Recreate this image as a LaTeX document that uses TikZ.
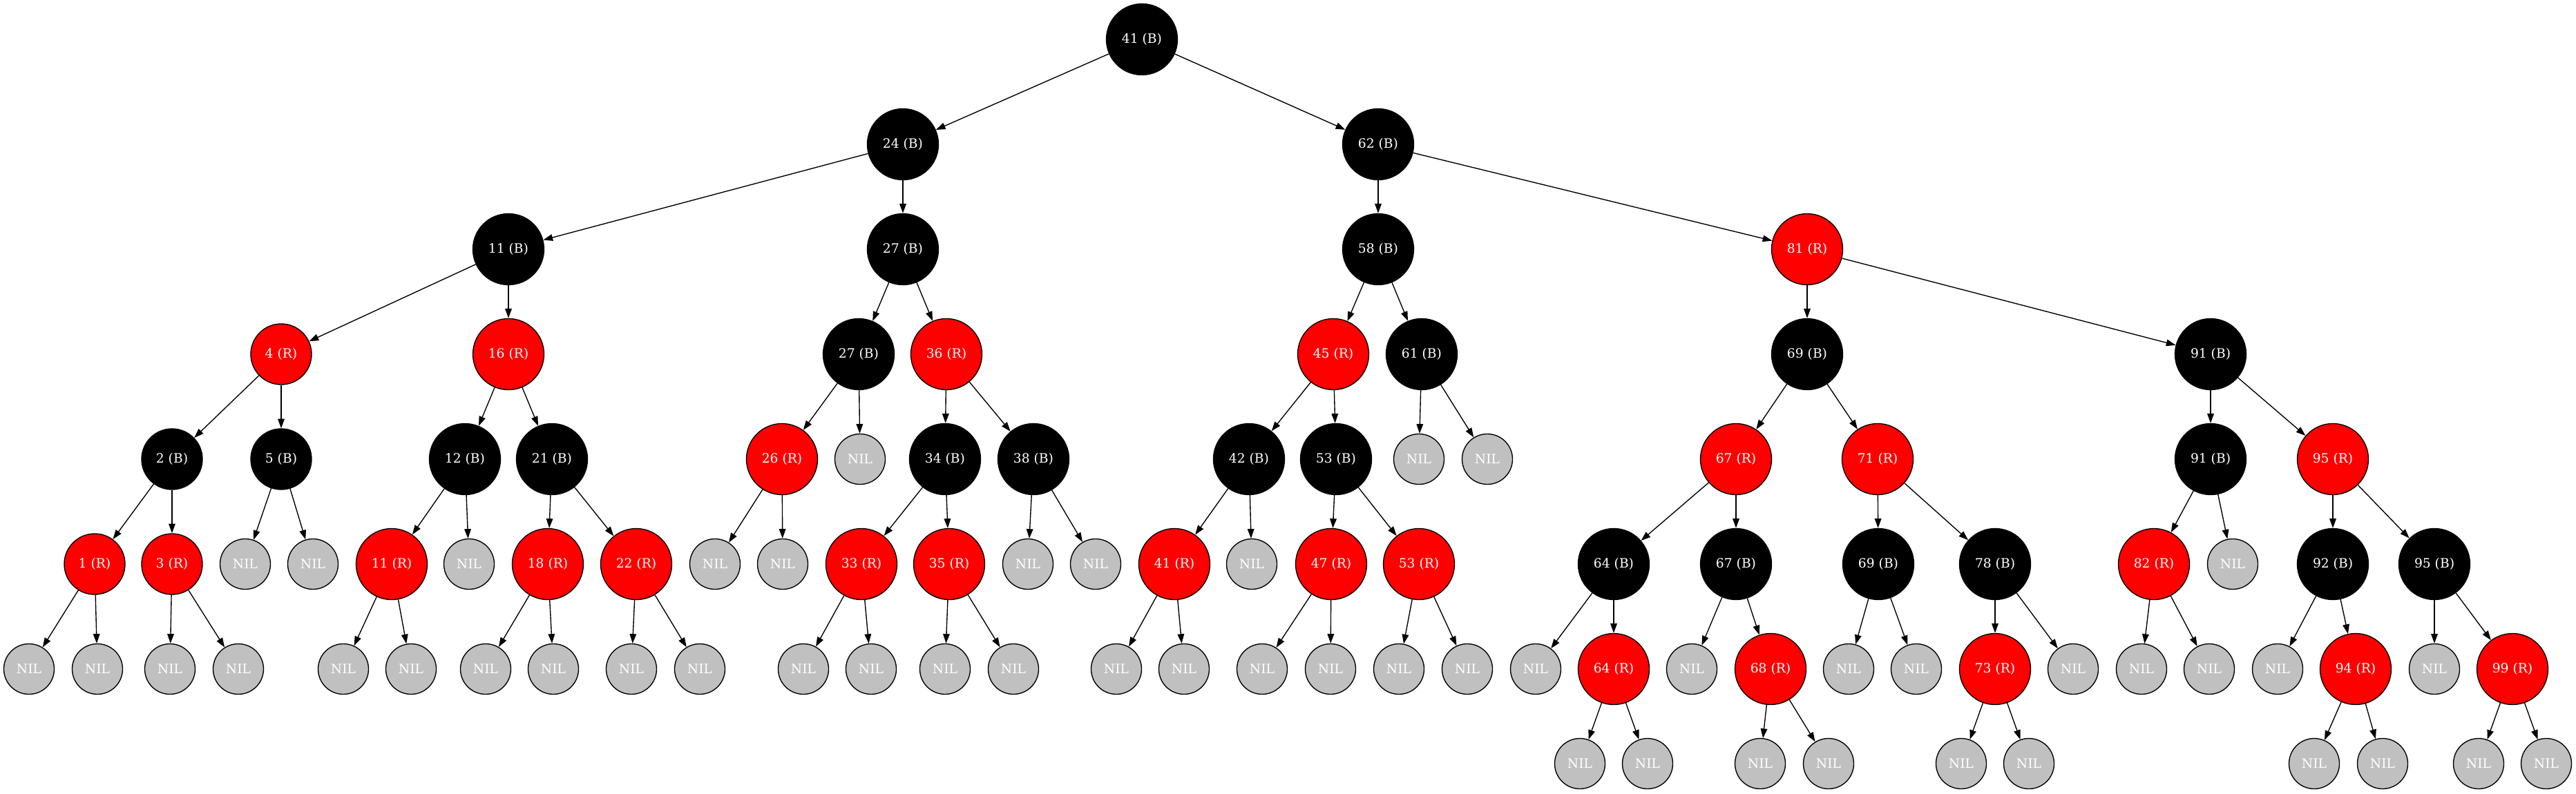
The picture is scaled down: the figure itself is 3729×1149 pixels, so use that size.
\documentclass[tikz,border=0pt]{standalone}
\usepackage{fontspec}
\setmainfont{DejaVu Serif}
\usetikzlibrary{arrows.meta}
\definecolor{nilgray}{HTML}{C0C0C0}
\definecolor{rbred}{HTML}{FF0000}
\newcommand{\nf}{\fontsize{18.7}{20}\selectfont}
\tikzset{
  nd/.style={circle, draw=black, line width=1.37pt, inner sep=0pt, text=white, font=\nf},
  blk/.style={nd, fill=black, minimum size=103pt},
  blks/.style={nd, fill=black, minimum size=88pt},
  rnode/.style={nd, fill=rbred, minimum size=103pt},
  rnodes/.style={nd, fill=rbred, minimum size=88pt},
  nilnode/.style={nd, fill=nilgray, minimum size=73pt},
  edge/.style={line width=1.37pt, -{Triangle[length=13.7pt,width=9.6pt]}}
}
\begin{document}
\begin{tikzpicture}[x=1pt,y=-1pt]
\useasboundingbox (0,0) rectangle (3729,1149);
\fill[white] (0,0) rectangle (3729,1149);
% level 0
\node[blk] (r41) at (1653,57) {41 (B)};
% level 1
\node[blk] (b24) at (1307,209) {24 (B)};
\node[blk] (b62) at (1995,209) {62 (B)};
% level 2
\node[blk] (b11) at (736,361) {11 (B)};
\node[blk] (b27) at (1307,361) {27 (B)};
\node[blk] (b58) at (1995,361) {58 (B)};
\node[rnode] (r81) at (2616,361) {81 (R)};
% level 3
\node[rnodes] (r4) at (407,513) {4 (R)};
\node[rnode] (r16) at (736,513) {16 (R)};
\node[blk] (b27b) at (1243,513) {27 (B)};
\node[rnode] (r36) at (1370,513) {36 (R)};
\node[rnode] (r45) at (1930,513) {45 (R)};
\node[blk] (b61) at (2058,513) {61 (B)};
\node[blk] (b69) at (2616,513) {69 (B)};
\node[blk] (b91) at (3200,513) {91 (B)};
% level 4
\node[blks] (b2) at (249,665) {2 (B)};
\node[blks] (b5) at (407,665) {5 (B)};
\node[blk] (b12) at (673,665) {12 (B)};
\node[blk] (b21) at (799,665) {21 (B)};
\node[rnode] (r26) at (1132,665) {26 (R)};
\node[nilnode] (x1) at (1245,665) {NIL};
\node[blk] (b34) at (1368,665) {34 (B)};
\node[blk] (b38) at (1496,665) {38 (B)};
\node[blk] (b42) at (1808,665) {42 (B)};
\node[blk] (b53) at (1934,665) {53 (B)};
\node[nilnode] (x2) at (2054,665) {NIL};
\node[nilnode] (x3) at (2153,665) {NIL};
\node[rnode] (r67) at (2513,665) {67 (R)};
\node[rnode] (r71) at (2718,665) {71 (R)};
\node[blk] (b91b) at (3200,665) {91 (B)};
\node[rnode] (r95) at (3377,665) {95 (R)};
% level 5
\node[rnodes] (r1) at (137,817) {1 (R)};
\node[rnodes] (r3) at (249,817) {3 (R)};
\node[nilnode] (x4) at (355,817) {NIL};
\node[nilnode] (x5) at (453,817) {NIL};
\node[rnode] (r11) at (567,817) {11 (R)};
\node[nilnode] (x6) at (679,817) {NIL};
\node[rnode] (r18) at (793,817) {18 (R)};
\node[rnode] (r22) at (921,817) {22 (R)};
\node[nilnode] (x7) at (1035,817) {NIL};
\node[nilnode] (x8) at (1133,817) {NIL};
\node[rnode] (r33) at (1247,817) {33 (R)};
\node[rnode] (r35) at (1374,817) {35 (R)};
\node[nilnode] (x9) at (1488,817) {NIL};
\node[nilnode] (x10) at (1586,817) {NIL};
\node[rnode] (r41b) at (1700,817) {41 (R)};
\node[nilnode] (x11) at (1812,817) {NIL};
\node[rnode] (r47) at (1927,817) {47 (R)};
\node[rnode] (r53) at (2054,817) {53 (R)};
\node[blk] (b64) at (2336,817) {64 (B)};
\node[blk] (b67) at (2513,817) {67 (B)};
\node[blk] (b69b) at (2719,817) {69 (B)};
\node[blk] (b78) at (2888,817) {78 (B)};
\node[rnode] (r82) at (3118,817) {82 (R)};
\node[nilnode] (x12) at (3232,817) {NIL};
\node[blk] (b92) at (3377,817) {92 (B)};
\node[blk] (b95) at (3524,817) {95 (B)};
% level 6
\node[nilnode] (x13) at (42,969) {NIL};
\node[nilnode] (x14) at (141,969) {NIL};
\node[nilnode] (x15) at (246,969) {NIL};
\node[nilnode] (x16) at (345,969) {NIL};
\node[nilnode] (x17) at (497,969) {NIL};
\node[nilnode] (x18) at (595,969) {NIL};
\node[nilnode] (x19) at (703,969) {NIL};
\node[nilnode] (x20) at (801,969) {NIL};
\node[nilnode] (x21) at (914,969) {NIL};
\node[nilnode] (x22) at (1013,969) {NIL};
\node[nilnode] (x23) at (1163,969) {NIL};
\node[nilnode] (x24) at (1261,969) {NIL};
\node[nilnode] (x25) at (1368,969) {NIL};
\node[nilnode] (x26) at (1467,969) {NIL};
\node[nilnode] (x27) at (1616,969) {NIL};
\node[nilnode] (x28) at (1714,969) {NIL};
\node[nilnode] (x29) at (1827,969) {NIL};
\node[nilnode] (x30) at (1926,969) {NIL};
\node[nilnode] (x31) at (2025,969) {NIL};
\node[nilnode] (x32) at (2124,969) {NIL};
\node[nilnode] (x33) at (2223,969) {NIL};
\node[rnode] (r64) at (2336,969) {64 (R)};
\node[nilnode] (x34) at (2449,969) {NIL};
\node[rnode] (r68) at (2563,969) {68 (R)};
\node[nilnode] (x35) at (2676,969) {NIL};
\node[nilnode] (x36) at (2774,969) {NIL};
\node[rnode] (r73) at (2888,969) {73 (R)};
\node[nilnode] (x37) at (3001,969) {NIL};
\node[nilnode] (x38) at (3100,969) {NIL};
\node[nilnode] (x39) at (3198,969) {NIL};
\node[nilnode] (x40) at (3297,969) {NIL};
\node[rnode] (r94) at (3410,969) {94 (R)};
\node[nilnode] (x41) at (3524,969) {NIL};
\node[rnode] (r99) at (3637,969) {99 (R)};
% level 7
\node[nilnode] (x42) at (2287,1106) {NIL};
\node[nilnode] (x43) at (2385,1106) {NIL};
\node[nilnode] (x44) at (2548,1106) {NIL};
\node[nilnode] (x45) at (2647,1106) {NIL};
\node[nilnode] (x46) at (2839,1106) {NIL};
\node[nilnode] (x47) at (2937,1106) {NIL};
\node[nilnode] (x48) at (3350,1106) {NIL};
\node[nilnode] (x49) at (3449,1106) {NIL};
\node[nilnode] (x50) at (3588,1106) {NIL};
\node[nilnode] (x51) at (3686,1106) {NIL};
% edges
\foreach \a/\b in {r41/b24, r41/b62, b24/b11, b24/b27, b62/b58, b62/r81,
  b11/r4, b11/r16, b27/b27b, b27/r36, b58/r45, b58/b61, r81/b69, r81/b91,
  r4/b2, r4/b5, r16/b12, r16/b21, b27b/r26, b27b/x1, r36/b34, r36/b38,
  r45/b42, r45/b53, b61/x2, b61/x3, b69/r67, b69/r71, b91/b91b, b91/r95,
  b2/r1, b2/r3, b5/x4, b5/x5, b12/r11, b12/x6, b21/r18, b21/r22,
  r26/x7, r26/x8, b34/r33, b34/r35, b38/x9, b38/x10, b42/r41b, b42/x11,
  b53/r47, b53/r53, r67/b64, r67/b67, r71/b69b, r71/b78, b91b/r82, b91b/x12,
  r95/b92, r95/b95,
  r1/x13, r1/x14, r3/x15, r3/x16, r11/x17, r11/x18, r18/x19, r18/x20,
  r22/x21, r22/x22, r33/x23, r33/x24, r35/x25, r35/x26, r41b/x27, r41b/x28,
  r47/x29, r47/x30, r53/x31, r53/x32, b64/x33, b64/r64, b67/x34, b67/r68,
  b69b/x35, b69b/x36, b78/r73, b78/x37, r82/x38, r82/x39, b92/x40, b92/r94,
  b95/x41, b95/r99,
  r64/x42, r64/x43, r68/x44, r68/x45, r73/x46, r73/x47, r94/x48, r94/x49,
  r99/x50, r99/x51}
  \draw[edge] (\a) -- (\b);
\end{tikzpicture}
\end{document}
